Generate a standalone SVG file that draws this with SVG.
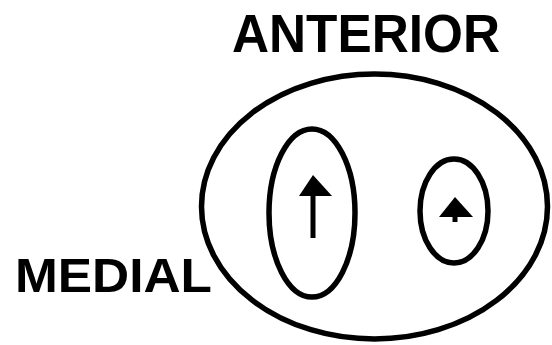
<svg xmlns="http://www.w3.org/2000/svg" width="552" height="345" viewBox="0 0 552 345">
<style>
.ln{fill:none;stroke:#000;stroke-width:5.5}
.lbl{font-family:"Liberation Sans",Arial,sans-serif;font-weight:bold;fill:#000}
</style>
<rect width="552" height="345" fill="#fff"/>
<g id="outer"><ellipse class="ln" cx="374.5" cy="206.5" rx="173" ry="132.5"/></g>
<g id="left-oval"><ellipse class="ln" cx="312" cy="213" rx="43" ry="84"/></g>
<g id="right-oval"><ellipse class="ln" cx="454" cy="211" rx="34" ry="52"/></g>
<g id="connectors">
<line x1="313" y1="190" x2="313" y2="238" stroke="#000" stroke-width="5"/>
<polygon points="313,175 332,196 299,196" fill="#000"/>
<line x1="455" y1="210" x2="455" y2="222" stroke="#000" stroke-width="5"/>
<polygon points="455,197 473,217 439,217" fill="#000"/>
</g>
<g id="label-anterior"><text class="lbl" x="232" y="52" font-size="54" textLength="268" lengthAdjust="spacingAndGlyphs">ANTERIOR</text></g>
<g id="label-medial"><text class="lbl" x="15" y="292" font-size="49" textLength="197" lengthAdjust="spacingAndGlyphs">MEDIAL</text></g>
</svg>
